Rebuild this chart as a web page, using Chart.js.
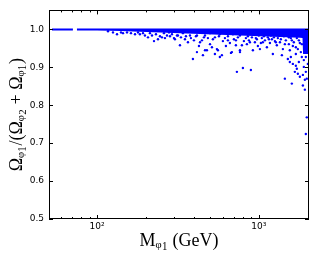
<!DOCTYPE html>
<html><head><meta charset="utf-8">
<script src="https://cdn.jsdelivr.net/npm/chart.js@4"></script>
<style>html,body{margin:0;padding:0;background:#fff;overflow:hidden}#wrap{width:317px;height:264px;position:relative}</style>
</head><body><div id="wrap"><canvas id="c"></canvas></div>
<script>
const xTitle = 'Mᵩ₁ (GeV)';
const yTitle = 'Ωᵩ₁/(Ωᵩ₂ + Ωᵩ₁)';
const yTicks = [0.5, 0.6, 0.7, 0.8, 0.9, 1.0];
const xMajorTicks = [100, 1000];
const xMinorTicks = [60, 70, 80, 90, 200, 300, 400, 500, 600, 700, 800, 900, 2000];

// dense band of points sitting at ratio ~1 (upper and lower edge)
const bandMass   = [52.7, 60, 71, 73, 75, 100, 140, 184, 245, 325, 433, 574, 764, 1015, 1349, 1791, 1860, 1875, 2037];
const bandTop    = [1.002, 1.002, 1.002, null, 1.002, 1.002, 1.002, 1.002, 1.002, 1.002, 1.002, 1.002, 1.002, 1.002, 1.002, 1.002, 1.002, 1.002, 1.002];
const bandBottom = [0.997, 0.997, 0.997, null, 0.997, 0.997, 0.996, 0.994, 0.992, 0.990, 0.988, 0.986, 0.984, 0.982, 0.980, 0.978, 0.977, 0.935, 0.935];

// scattered scan points below the band
const scanMass = [
 116.9,125.5,132.9,140.6,144.7,153.2,162.1,171.7,179.1,184,
 192.3,197.7,206.5,212.3,218.6,224.9,231.3,238,244.8,251.9,
 259.2,262.9,270.5,278.3,282.3,290.4,298.8,303,311.8,316.2,
 325.4,330,339.5,349.4,354.3,364.6,375.2,380.4,391.3,397,
 408.5,414.3,414.3,426.3,432.6,444.8,451.2,457.7,464.6,477.5,
 484.4,498.9,512.8,520,535,550.5,558.4,566.4,574,590.9,
 599.4,617,625.7,643.8,662,672,681.3,701,721.1,731.5,
 742,764,764,785.5,796.6,808,831.5,843.3,867.6,892.5,
 905.4,918.3,945,972,985.8,1015,1043,1058,1090,1121,
 1136,1170,1203,1220,1256,1291,1310,1349,1387,1407,
 1447,1468,1510,1532,1553,1553,1576,1598,1621,1644,
 1668,1692,1716,1741,1766,1791,1817,1842,1870,1870,
 1896,1923,1923,1950,1977,1977,1950,2007,1896,1950,
 464.6,498.9,535,574,617,643.8,691.1,721.1,764,808,
 855,880,931,958,999,1029,1074,1105,1153,1186,
 1238,1273,1329,1367,1427,1447,1489,1532,1598,1621,
 1668,1692,1716,1741,1791,1817,1842,1766,1692,1576
];
const scanRatio = [
 0.995,0.992,0.987,0.992,0.990,0.992,0.990,0.987,0.992,0.987,
 0.990,0.984,0.979,0.990,0.984,0.969,0.987,0.974,0.982,0.979,
 0.990,0.977,0.984,0.992,0.982,0.987,0.977,0.974,0.984,0.984,
 0.958,0.979,0.990,0.974,0.982,0.966,0.984,0.977,0.922,0.971,
 0.982,0.940,0.984,0.956,0.966,0.971,0.932,0.979,0.945,0.945,
 0.977,0.961,0.953,0.974,0.935,0.948,0.945,0.982,0.927,0.932,
 0.969,0.977,0.956,0.971,0.964,0.938,0.940,0.974,0.958,0.888,
 0.979,0.945,0.940,0.958,0.898,0.969,0.977,0.961,0.971,0.893,
 0.979,0.945,0.966,0.974,0.956,0.948,0.977,0.966,0.971,0.953,
 0.979,0.964,0.974,0.935,0.969,0.958,0.977,0.966,0.932,0.948,
 0.870,0.971,0.922,0.961,0.945,0.914,0.977,0.857,0.909,0.966,
 0.888,0.953,0.896,0.883,0.971,0.875,0.940,0.961,0.880,0.852,
 0.901,0.867,0.841,0.724,0.870,0.768,0.888,0.909,0.919,0.927,
 0.984,0.990,0.979,0.987,0.992,0.982,0.987,0.971,0.984,0.990,
 0.982,0.966,0.987,0.977,0.984,0.964,0.982,0.990,0.974,0.984,
 0.979,0.966,0.987,0.974,0.982,0.961,0.990,0.979,0.971,0.956,
 0.984,0.935,0.977,0.948,0.964,0.984,0.927,0.914,0.904,0.927
];

const BLUE = '#0000ff';
const pts = (xs, ys) => xs.map((x, i) => ({x: x, y: ys[i]}));

const frame = {
  id: 'frame',
  afterDatasetsDraw(chart) {
    const {ctx, chartArea: a, scales: {x, y}} = chart;
    ctx.save();
    ctx.strokeStyle = '#000';
    ctx.lineWidth = 1;
    ctx.strokeRect(Math.round(a.left) + 0.5, Math.round(a.top) + 0.5,
                   Math.round(a.right - a.left) - 1, Math.round(a.bottom - a.top) - 1);
    ctx.beginPath();
    const tickX = (v, len) => {
      const px = Math.round(x.getPixelForValue(v)) + 0.5;
      ctx.moveTo(px, a.bottom); ctx.lineTo(px, a.bottom - len);
      ctx.moveTo(px, a.top); ctx.lineTo(px, a.top + len);
    };
    xMajorTicks.forEach(v => tickX(v, 4));
    xMinorTicks.forEach(v => tickX(v, 2));
    yTicks.forEach(v => {
      const py = Math.round(y.getPixelForValue(v)) + 0.5;
      ctx.moveTo(a.left, py); ctx.lineTo(a.left + 4, py);
      ctx.moveTo(a.right, py); ctx.lineTo(a.right - 4, py);
    });
    ctx.stroke();
    ctx.restore();
  }
};

new Chart(document.getElementById('c'), {
  type: 'scatter',
  data: {
    datasets: [
      { type: 'line', data: pts(bandMass, bandTop), borderWidth: 0, pointRadius: 0, fill: false, spanGaps: false, borderColor: BLUE },
      { type: 'line', data: pts(bandMass, bandBottom), borderWidth: 0, pointRadius: 0, fill: '-1', spanGaps: false, borderColor: BLUE, backgroundColor: BLUE },
      { data: pts(scanMass, scanRatio), pointRadius: 1.2, pointBorderWidth: 0, backgroundColor: BLUE, borderColor: BLUE }
    ]
  },
  options: {
    responsive: true,
    maintainAspectRatio: false,
    animation: false,
    events: [],
    layout: { padding: { top: 8, right: 8, left: 0, bottom: 0 } },
    plugins: { legend: { display: false }, tooltip: { enabled: false } },
    scales: {
      x: {
        type: 'logarithmic', min: 50.5, max: 2040, position: 'bottom',
        grid: { display: false, drawTicks: false }, border: { display: false },
        afterBuildTicks: s => { s.ticks = xMajorTicks.map(v => ({value: v})); },
        afterFit: s => { s.height = 45; },
        ticks: { color: '#000', font: { family: 'DejaVu Sans', size: 9 }, padding: 2, maxRotation: 0,
                 callback: v => v === 100 ? '10²' : (v === 1000 ? '10³' : '') },
        title: { display: true, text: xTitle, color: '#000', font: { family: 'Liberation Serif', size: 18 }, padding: { top: 0, bottom: 12 } }
      },
      y: {
        min: 0.5, max: 1.05,
        grid: { display: false, drawTicks: false }, border: { display: false },
        afterBuildTicks: s => { s.ticks = yTicks.map(v => ({value: v})); },
        afterFit: s => { s.width = 49; },
        ticks: { color: '#000', font: { family: 'DejaVu Sans', size: 9 }, padding: 5,
                 callback: v => Number(v).toFixed(1) },
        title: { display: true, text: yTitle, color: '#000', font: { family: 'Liberation Serif', size: 18 }, padding: { top: 6, bottom: 0 } }
      }
    }
  },
  plugins: [frame]
});
</script></body></html>
